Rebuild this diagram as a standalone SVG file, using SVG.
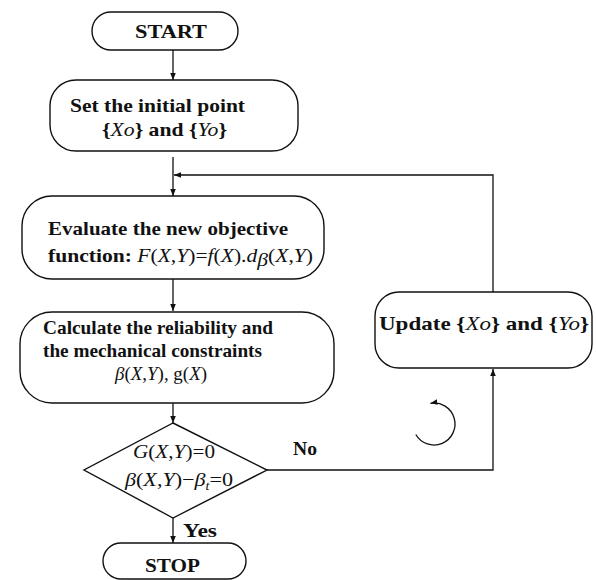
<svg xmlns="http://www.w3.org/2000/svg" width="596" height="580" viewBox="0 0 596 580">
<style>
.box{fill:#fff;stroke:#111;stroke-width:1.4}
.ln{fill:none;stroke:#111;stroke-width:1.3}
.t{font-family:"Liberation Serif","Times New Roman",serif;font-weight:bold;font-size:19px;fill:#111}
.m{font-family:"Liberation Serif","Times New Roman",serif;font-style:italic;font-weight:normal;font-size:19px;fill:#111}
.r{font-style:normal}
</style>
<defs>
<marker id="ah" viewBox="0 0 10 10" refX="10" refY="5" markerWidth="7" markerHeight="7" orient="auto" markerUnits="userSpaceOnUse">
<path d="M0,1 L10,5 L0,9 Z" fill="#111"/>
</marker>
</defs>
<rect width="596" height="580" fill="#fff"/>
<g id="connectors">
<line class="ln" x1="173" y1="50" x2="173" y2="80" marker-end="url(#ah)"/>
<line class="ln" x1="173" y1="157" x2="173" y2="196" marker-end="url(#ah)"/>
<polyline class="ln" points="493,292 493,175 174,175" marker-end="url(#ah)"/>
<line class="ln" x1="173" y1="279" x2="173" y2="311" marker-end="url(#ah)"/>
<line class="ln" x1="173" y1="403" x2="173" y2="423" marker-end="url(#ah)"/>
<line class="ln" x1="173" y1="518" x2="173" y2="543" marker-end="url(#ah)"/>
<polyline class="ln" points="267,470 493,470 493,369" marker-end="url(#ah)"/>
<path class="ln" d="M415.8,434.5 A21,21 0 1 0 430.4,403.3" marker-end="url(#ah)"/>
<text class="t" x="293" y="455" textLength="24" lengthAdjust="spacingAndGlyphs">No</text>
<text class="t" x="183" y="537" textLength="34" lengthAdjust="spacingAndGlyphs">Yes</text>
</g>
<g id="start">
<rect class="box" x="92" y="12" width="146" height="38" rx="19"/>
<text class="t" x="135" y="38" font-size="20" textLength="72" lengthAdjust="spacingAndGlyphs">START</text>
</g>
<g id="init">
<rect class="box" x="50" y="80" width="248" height="71" rx="26"/>
<text class="t" x="70" y="112" textLength="175" lengthAdjust="spacingAndGlyphs">Set the initial point</text>
<text class="t" x="102" y="136" textLength="125" lengthAdjust="spacingAndGlyphs">{<tspan class="m">Xo</tspan>} and {<tspan class="m">Yo</tspan>}</text>
</g>
<g id="evaluate">
<rect class="box" x="22" y="196" width="302" height="83" rx="30"/>
<text class="t" x="48" y="235" textLength="240" lengthAdjust="spacingAndGlyphs">Evaluate the new objective</text>
<text class="t" x="48" y="262" textLength="265" lengthAdjust="spacingAndGlyphs">function:  <tspan class="m">F</tspan><tspan class="m r">(</tspan><tspan class="m">X</tspan><tspan class="m r">,</tspan><tspan class="m">Y</tspan><tspan class="m r">)=</tspan><tspan class="m">f</tspan><tspan class="m r">(</tspan><tspan class="m">X</tspan><tspan class="m r">).</tspan><tspan class="m">d</tspan><tspan class="m" font-size="12" dy="4">β</tspan><tspan class="m r" dy="-4">(</tspan><tspan class="m">X</tspan><tspan class="m r">,</tspan><tspan class="m">Y</tspan><tspan class="m r">)</tspan></text>
</g>
<g id="calculate">
<rect class="box" x="20" y="312" width="314" height="91" rx="32"/>
<text class="t" x="43" y="334" textLength="230" lengthAdjust="spacingAndGlyphs">Calculate the reliability and</text>
<text class="t" x="43" y="357" textLength="219" lengthAdjust="spacingAndGlyphs">the mechanical constraints</text>
<text class="m" x="115" y="380" textLength="92" lengthAdjust="spacingAndGlyphs">β<tspan class="r">(</tspan>X<tspan class="r">,</tspan>Y<tspan class="r">), g(</tspan>X<tspan class="r">)</tspan></text>
</g>
<g id="decision">
<polygon class="box" points="173,423 267,470 173,518 84,470"/>
<text class="m" x="133" y="458" textLength="82" lengthAdjust="spacingAndGlyphs">G<tspan class="r">(</tspan>X<tspan class="r">,</tspan>Y<tspan class="r">)=0</tspan></text>
<text class="m" x="125" y="486" textLength="108" lengthAdjust="spacingAndGlyphs">β<tspan class="r">(</tspan>X<tspan class="r">,</tspan>Y<tspan class="r">)−</tspan>β<tspan font-size="12" dy="4">t</tspan><tspan class="r" dy="-4">=0</tspan></text>
</g>
<g id="update">
<rect class="box" x="375" y="292" width="217" height="76" rx="24"/>
<text class="t" x="379" y="330" textLength="210" lengthAdjust="spacingAndGlyphs">Update {<tspan class="m">Xo</tspan>} and {<tspan class="m">Yo</tspan>}</text>
</g>
<g id="stop">
<rect class="box" x="103" y="543" width="143" height="36" rx="18"/>
<text class="t" x="145" y="572" font-size="20" textLength="55" lengthAdjust="spacingAndGlyphs">STOP</text>
</g>
</svg>
